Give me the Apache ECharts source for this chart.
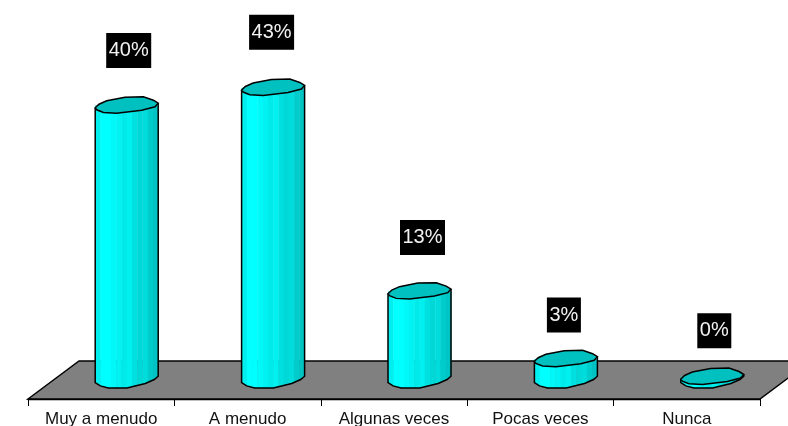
<!DOCTYPE html>
<html><head><meta charset="utf-8">
<style>html,body{margin:0;padding:0;background:#fff}#c{width:788px;height:426px;overflow:hidden}</style>
<script src="https://cdn.jsdelivr.net/npm/echarts@6/dist/echarts.min.js"></script>
</head><body><div id="c"></div>
<script>
const categories = ['Muy a menudo','A menudo','Algunas veces','Pocas veces','Nunca'];
const values = [40.1,42.7,12.9,3,0.4];
const labels = ['40%','43%','13%','3%','0%'];

const capShape = [[-31.5,2.3],[-27.7,-1.3],[-20,-4.7],[-1.7,-8.3],[16.7,-8.7],[26.7,-5.3],[31.5,-2.3],[28.3,1.3],[15,4.7],[-10,7.7],[-23.3,7],[-30,4.3]];
const baseShape = [[-31.5,3],[-26.4,6.4],[-18.4,8.4],[0.3,8.4],[18.6,4],[27.6,0],[31.5,-3.3]];
const facetColors = ['#00eeee','#00ffff','#00ffff','#00f8f8','#00f2f2','#00eaea','#00f0f0','#00e0e0','#00d8d8','#00dcdc','#00cccc','#00c4c4'];
const labelNudge = [[2,-55],[-1.5,-55.5],[3,-54],[-2,-44],[2,-46]];
const bodyDepth = 25.5;

function baseY(dx){
  for(let i=1;i<baseShape.length;i++){
    const a=baseShape[i-1],b=baseShape[i];
    if(dx<=b[0]) return a[1]+(b[1]-a[1])*(dx-a[0])/(b[0]-a[0]);
  }
  return baseShape[baseShape.length-1][1];
}
function renderFloor(params, api){
  const cs=params.coordSys, L=cs.x, R=cs.x+cs.width, B=cs.y+cs.height;
  return {type:'polygon',silent:true,shape:{points:[[L,B],[L+51,B-38],[R+51,B-38],[R,B]]},
    style:{fill:'#808080',stroke:'#000',lineWidth:1.5}};
}
function renderBar(params, api){
  const i=api.value(0), v=api.value(1);
  const p0=api.coord([i,0]), p1=api.coord([i,v]);
  const cx=p0[0]+bodyDepth, by=p0[1], ty=p1[1];
  const ch=[];
  const n=facetColors.length, W=63;
  for(let k=0;k<n;k++){
    const x0=-W/2+W*k/n, x1=-W/2+W*(k+1)/n;
    ch.push({type:'polygon',silent:true,shape:{points:[[cx+x0,ty],[cx+x1+0.4,ty],[cx+x1+0.4,by+baseY(x1)],[cx+x0,by+baseY(x0)]]},
      style:{fill:facetColors[k],stroke:null}});
  }
  const outline=[[cx-31.5,ty+capShape[0][1]]].concat(baseShape.map(s=>[cx+s[0],by+s[1]])).concat([[cx+31.5,ty+capShape[6][1]]]);
  ch.push({type:'polyline',silent:true,shape:{points:outline},style:{fill:null,stroke:'#000',lineWidth:1.5}});
  ch.push({type:'polygon',silent:true,shape:{points:capShape.map(s=>[cx+s[0],ty+s[1]])},
    style:{fill:'#00c0c0',stroke:'#000',lineWidth:1.5}});
  const lx=cx+labelNudge[i][0], ly=ty+labelNudge[i][1], bw=labels[i].length>2?45:34;
  ch.push({type:'rect',silent:true,shape:{x:lx-bw/2,y:ly-17.5,width:bw,height:35},style:{fill:'#000'}});
  ch.push({type:'text',silent:true,style:{x:lx,y:ly,text:labels[i],fill:'#f2f2f2',font:'20px "Liberation Sans"',align:'center',verticalAlign:'middle'}});
  return {type:'group',children:ch};
}
const chart=echarts.init(document.getElementById('c'),null,{renderer:'canvas'});
chart.setOption({
  animation:false,
  backgroundColor:'#fff',
  grid:{left:28,right:28,top:3.7,bottom:27,outerBoundsMode:'none'},
  xAxis:{type:'category',data:categories,position:'bottom',
    axisLine:{onZero:false,lineStyle:{color:'#000',width:1.4}},
    axisTick:{show:true,alignWithLabel:false,length:7,lineStyle:{color:'#000',width:1}},
    axisLabel:{color:'#111',fontFamily:'Liberation Sans',fontSize:17,margin:12,interval:0},
    splitLine:{show:false}},
  yAxis:{type:'value',min:-2.85,max:55,show:false,splitLine:{show:false}},
  series:[
    {type:'custom',silent:true,renderItem:renderFloor,data:[[0,0]],clip:false,z:1},
    {type:'custom',silent:true,renderItem:renderBar,data:values.map((v,i)=>[i,v]),clip:false,z:2,encode:{x:0,y:1}}
  ]
});
</script></body></html>
